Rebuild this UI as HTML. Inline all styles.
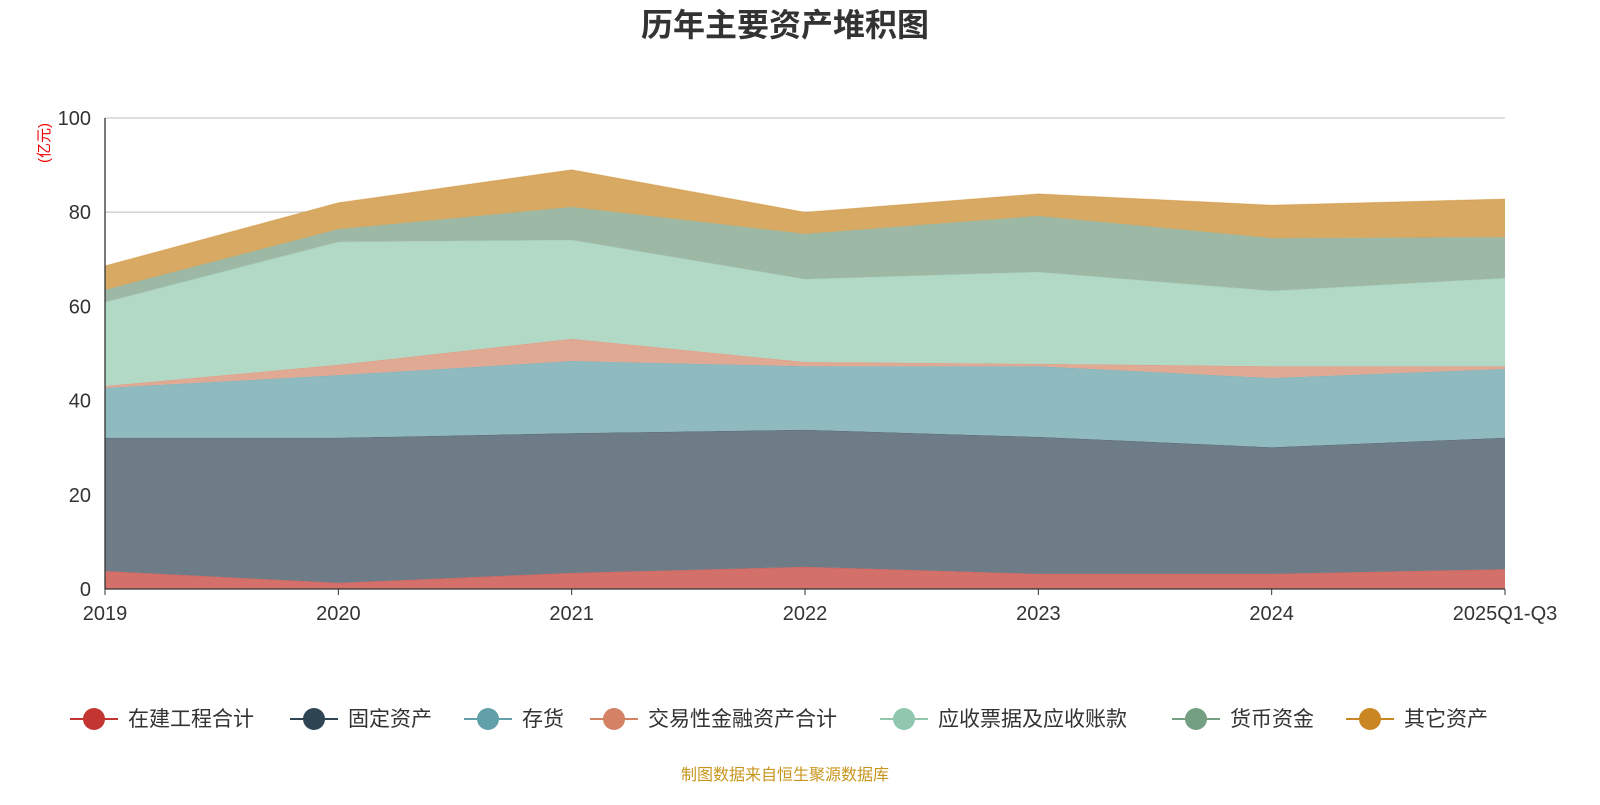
<!DOCTYPE html>
<html><head><meta charset="utf-8"><style>
body{margin:0;background:#fff;font-family:"Liberation Sans","Noto Sans CJK SC",sans-serif;}
svg text{font-family:"Liberation Sans","Noto Sans CJK SC",sans-serif;}
</style></head><body>
<svg id="chart" width="1600" height="800">
<text x="785" y="36" text-anchor="middle" font-size="32" font-weight="bold" fill="#333">历年主要资产堆积图</text>
<text transform="translate(49,143) rotate(-90)" text-anchor="middle" font-size="15" fill="#e00">(亿元)</text>
<g id="grid"></g><g id="areas"></g><g id="axes"></g><g id="legend"></g>
<text x="785" y="780" text-anchor="middle" font-size="16" fill="#c8961e">制图数据来自恒生聚源数据库</text>
</svg>
<script>
const categories=["2019","2020","2021","2022","2023","2024","2025Q1-Q3"];
const seriesNames=["在建工程合计","固定资产","存货","交易性金融资产合计","应收票据及应收账款","货币资金","其它资产"];
const s0=[3.8,1.3,3.4,4.7,3.2,3.2,4.2];
const s1=[28.3,30.8,29.7,29.1,29.1,26.9,27.9];
const s2=[10.6,13.3,15.3,13.5,15.0,14.7,14.6];
const s3=[0.4,2.2,4.7,0.9,0.5,2.5,0.6];
const s4=[17.8,26.1,21.0,17.6,19.5,16.0,18.7];
const s5=[2.6,2.7,7.0,9.6,11.9,11.2,8.7];
const s6=[5.1,5.6,7.9,4.6,4.7,7.0,8.1];
const yTicks=[0,20,40,60,80,100];
const series=[s0,s1,s2,s3,s4,s5,s6];
const fills=["#d4706a","#6e7c87","#8fbac0","#e0a993","#b2d8c6","#9db9a6","#d8a962"];
const icons=["#c23531","#2f4554","#61a0a8","#d48265","#91c7ae","#749f83","#ca8622"];
const NS="http://www.w3.org/2000/svg";
const X0=105,X1=1505,Y0=589,Y1=118;
const xs=i=>X0+(X1-X0)*i/(categories.length-1);
const ys=v=>Y0-(Y0-Y1)*v/100;
function mk(t,a,p){const e=document.createElementNS(NS,t);for(const k in a)e.setAttribute(k,a[k]);p.appendChild(e);return e;}
const grid=document.getElementById('grid'),areas=document.getElementById('areas'),axes=document.getElementById('axes'),leg=document.getElementById('legend');
yTicks.forEach(t=>{
 if(t>0){const l=mk('line',{x1:X0,x2:X1,y1:ys(t),y2:ys(t),stroke:'#ccc','stroke-width':1.3},grid);
 
 }
 const tx=mk('text',{x:X0-14,y:ys(t)+7,'text-anchor':'end','font-size':20,fill:'#333'},axes);tx.textContent=t;
 
 
});
let base=categories.map(()=>0);
series.forEach((s,k)=>{
 const top=s.map((v,i)=>base[i]+v);
 let d='M'+top.map((v,i)=>xs(i)+','+ys(v)).join('L');
 for(let i=categories.length-1;i>=0;i--)d+='L'+xs(i)+','+ys(base[i]);
 const p=mk('path',{d:d+'Z',fill:fills[k]},areas);
 
 
 const ln=mk('polyline',{points:top.map((v,i)=>xs(i)+','+ys(v)).join(' '),fill:'none',stroke:icons[k],'stroke-opacity':0.35,'stroke-width':1},areas);
 
 
 base=top;
});
const ya=mk('line',{x1:X0,x2:X0,y1:Y1,y2:Y0,stroke:'#333','stroke-width':1.3},axes);


const xa=mk('line',{x1:X0,x2:X1,y1:Y0,y2:Y0,stroke:'#333','stroke-width':1.3},axes);


categories.forEach((c,i)=>{
 const tk=mk('line',{x1:xs(i),x2:xs(i),y1:Y0,y2:Y0+6,stroke:'#333'},axes);
 
 
 const t=mk('text',{x:xs(i),y:620,'text-anchor':'middle','font-size':20,fill:'#333'},axes);t.textContent=c;
 
 
});
const lx=[70,290,464,590,880,1172,1346];
seriesNames.forEach((n,k)=>{
 const g=mk('g',{},leg);
 
 
 mk('line',{x1:lx[k],x2:lx[k]+48,y1:719,y2:719,stroke:icons[k],'stroke-width':2},g);
 mk('circle',{cx:lx[k]+24,cy:719,r:11,fill:icons[k]},g);
 const t=mk('text',{x:lx[k]+58,y:726,'font-size':21,fill:'#333'},g);t.textContent=n;
});
</script>
</body></html>
